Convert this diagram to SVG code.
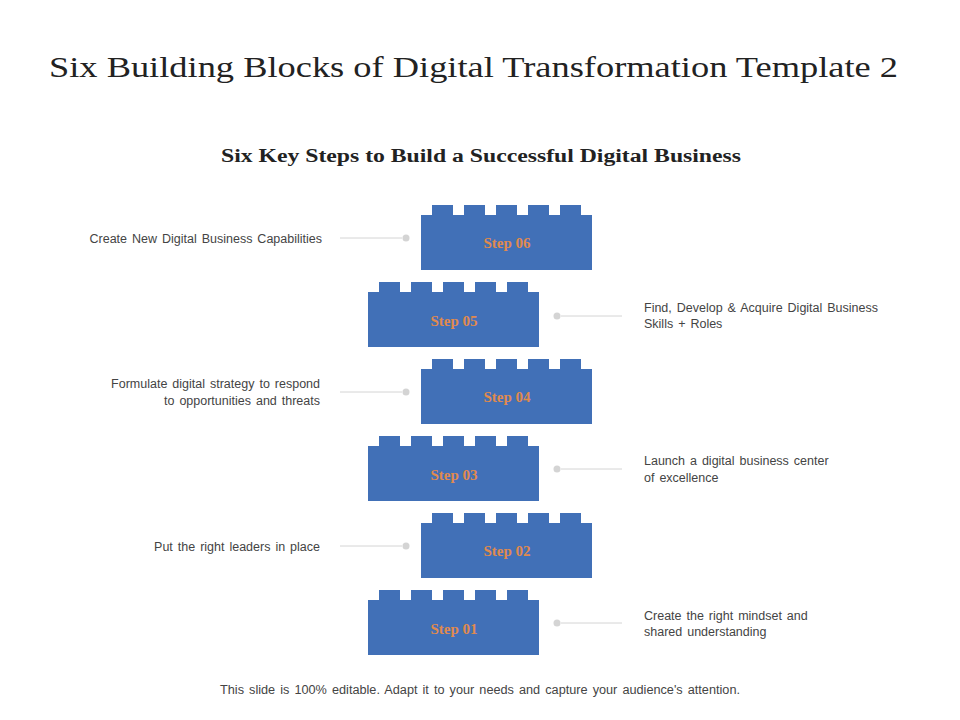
<svg xmlns="http://www.w3.org/2000/svg" width="960" height="720" viewBox="0 0 960 720">
<style>
.t{font-family:"Liberation Serif",serif;fill:#222}
.blk{fill:#4170b7}
.st{font-family:"Liberation Serif",serif;font-size:15px;font-weight:bold;fill:#e08a4e;text-anchor:middle}
.d{font-family:"Liberation Sans",sans-serif;font-size:12.5px;word-spacing:1.5px;fill:#444}
.ln{stroke:#d4d4d4;stroke-width:1}
.dot{fill:#d4d4d4}
</style>
<defs>
<g id="brick">
<rect x="0" y="0" width="171" height="55" class="blk"/>
<rect x="11" y="-10" width="21" height="11" class="blk"/>
<rect x="43" y="-10" width="21" height="11" class="blk"/>
<rect x="75" y="-10" width="21" height="11" class="blk"/>
<rect x="107" y="-10" width="21" height="11" class="blk"/>
<rect x="139" y="-10" width="21" height="11" class="blk"/>
</g>
</defs>
<rect width="960" height="720" fill="#fff"/>
<text x="49" y="77" class="t" font-size="29" textLength="849" lengthAdjust="spacingAndGlyphs">Six Building Blocks of Digital Transformation Template 2</text>
<text x="221" y="162" class="t" font-size="18" font-weight="bold" textLength="520" lengthAdjust="spacingAndGlyphs">Six Key Steps to Build a Successful Digital Business</text>
<g id="connectors">
<line x1="340" y1="238" x2="402" y2="238" class="ln"/><circle cx="406" cy="238" r="3.5" class="dot"/>
<line x1="561" y1="316" x2="622" y2="316" class="ln"/><circle cx="557" cy="316" r="3.5" class="dot"/>
<line x1="340" y1="392" x2="402" y2="392" class="ln"/><circle cx="406" cy="392" r="3.5" class="dot"/>
<line x1="561" y1="469" x2="622" y2="469" class="ln"/><circle cx="557" cy="469" r="3.5" class="dot"/>
<line x1="340" y1="546" x2="402" y2="546" class="ln"/><circle cx="406" cy="546" r="3.5" class="dot"/>
<line x1="561" y1="623" x2="622" y2="623" class="ln"/><circle cx="557" cy="623" r="3.5" class="dot"/>
</g>
<g id="step06"><use href="#brick" x="421" y="215"/><text x="507" y="248" class="st">Step 06</text>
<text x="322" y="243" class="d" text-anchor="end">Create New Digital Business Capabilities</text></g>
<g id="step05"><use href="#brick" x="368" y="292"/><text x="454" y="326" class="st">Step 05</text>
<text x="644" y="312" class="d">Find, Develop  &amp; Acquire Digital Business</text><text x="644" y="328" class="d">Skills + Roles</text></g>
<g id="step04"><use href="#brick" x="421" y="369"/><text x="507" y="402" class="st">Step 04</text>
<text x="320" y="388" class="d" text-anchor="end">Formulate digital strategy to respond</text><text x="320" y="405" class="d" text-anchor="end">to opportunities and threats</text></g>
<g id="step03"><use href="#brick" x="368" y="446"/><text x="454" y="480" class="st">Step 03</text>
<text x="644" y="465" class="d">Launch a digital business center</text><text x="644" y="482" class="d">of excellence</text></g>
<g id="step02"><use href="#brick" x="421" y="523"/><text x="507" y="556" class="st">Step 02</text>
<text x="320" y="551" class="d" text-anchor="end">Put the right leaders in place</text></g>
<g id="step01"><use href="#brick" x="368" y="600"/><text x="454" y="634" class="st">Step 01</text>
<text x="644" y="620" class="d">Create the right mindset and</text><text x="644" y="636" class="d">shared understanding</text></g>
<text x="220" y="694" class="d" textLength="520" lengthAdjust="spacingAndGlyphs">This slide is 100% editable. Adapt it to your needs and capture your audience's attention.</text>
</svg>
